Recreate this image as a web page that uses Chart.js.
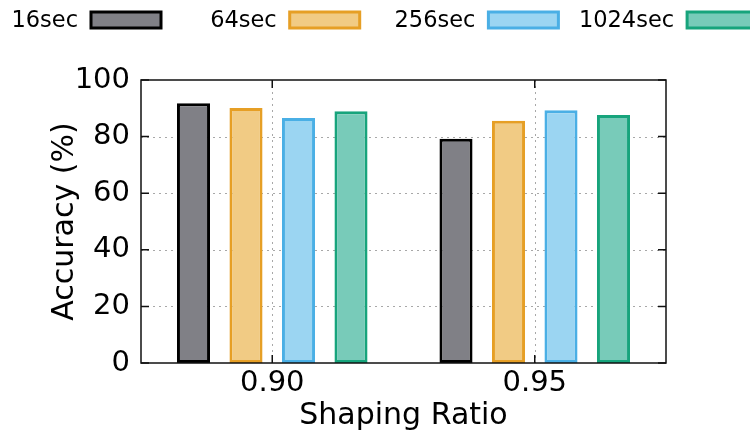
<!DOCTYPE html>
<html>
<head>
<meta charset="utf-8">
<script src="https://cdn.jsdelivr.net/npm/chart.js@4/dist/chart.umd.min.js"></script>
<style>
  html, body { margin: 0; padding: 0; background: #fff; }
  #wrap { width: 750px; height: 434px; position: relative; }
</style>
</head>
<body>
<div id="wrap"><canvas id="c" width="750" height="434"></canvas></div>
<script>
const categories = ['0.90', '0.95'];
const seriesNames = ['16sec', '64sec', '256sec', '1024sec'];
const acc16 = [91.8, 79.2];
const acc64 = [90.1, 85.6];
const acc256 = [86.6, 89.3];
const acc1024 = [89.0, 87.6];
const yTicks = [0, 20, 40, 60, 80, 100];

const fills = ['#808086', '#f1cb84', '#9bd5f2', '#78cbb9'];
const borders = ['#000000', '#e69f25', '#4aafe5', '#17a47c'];
const FONT = "'DejaVu Sans', sans-serif";

const seriesValues = [acc16, acc64, acc256, acc1024];

const framePlugin = {
  id: 'frame',
  beforeDatasetsDraw(chart) {
    const { ctx, chartArea: a, scales: { x, y } } = chart;
    ctx.save();
    ctx.strokeStyle = '#a8a8a8';
    ctx.lineWidth = 1;
    ctx.setLineDash([2, 4]);
    yTicks.forEach(v => {
      if (v === 0 || v === 100) return;
      const py = Math.round(y.getPixelForValue(v)) + 0.5;
      ctx.beginPath(); ctx.moveTo(a.left, py); ctx.lineTo(a.right, py); ctx.stroke();
    });
    categories.forEach((c, i) => {
      const px = Math.round(x.getPixelForValue(i)) + 0.5;
      ctx.beginPath(); ctx.moveTo(px, a.top); ctx.lineTo(px, a.bottom); ctx.stroke();
    });
    ctx.restore();
  },
  afterDatasetsDraw(chart) {
    const { ctx, chartArea: a, scales: { x, y } } = chart;
    ctx.save();
    ctx.strokeStyle = '#111';
    ctx.lineWidth = 1.5;
    ctx.setLineDash([]);
    ctx.strokeRect(a.left, a.top, a.right - a.left, a.bottom - a.top);
    const L = 8;
    ctx.beginPath();
    yTicks.forEach(v => {
      const py = y.getPixelForValue(v);
      ctx.moveTo(a.left, py); ctx.lineTo(a.left + L, py);
      ctx.moveTo(a.right, py); ctx.lineTo(a.right - L, py);
    });
    categories.forEach((c, i) => {
      const px = x.getPixelForValue(i);
      ctx.moveTo(px, a.bottom); ctx.lineTo(px, a.bottom - L);
      ctx.moveTo(px, a.top); ctx.lineTo(px, a.top + L);
    });
    ctx.stroke();
    ctx.restore();
  },
  afterDraw(chart) {
    const { ctx } = chart;
    ctx.save();
    ctx.font = '22.5px ' + FONT;
    ctx.textAlign = 'right';
    ctx.textBaseline = 'middle';
    ctx.fillStyle = '#000';
    seriesNames.forEach((n, i) => {
      const bx = 91 + i * 198.7;
      ctx.fillText(n, bx - 13, 21);
      ctx.fillStyle = fills[i];
      ctx.fillRect(bx, 12, 70, 16);
      ctx.strokeStyle = borders[i];
      ctx.lineWidth = 3;
      ctx.strokeRect(bx, 12, 70, 16);
      ctx.fillStyle = '#000';
    });
    ctx.restore();
  }
};

new Chart(document.getElementById('c'), {
  type: 'bar',
  data: {
    labels: categories,
    datasets: seriesNames.map((n, i) => ({
      label: n,
      data: seriesValues[i],
      backgroundColor: fills[i],
      borderColor: borders[i],
      borderWidth: 3,
      borderSkipped: false,
      categoryPercentage: 0.8,
      barPercentage: 0.63
    }))
  },
  options: {
    responsive: false,
    animation: false,
    devicePixelRatio: 1,
    layout: { padding: { top: 80, right: 84, left: 0, bottom: 0 } },
    plugins: { legend: { display: false }, tooltip: { enabled: false } },
    scales: {
      x: {
        grid: { display: false, drawTicks: false },
        border: { display: false },
        ticks: { color: '#000', font: { family: FONT, size: 29 }, padding: 3 },
        title: { display: true, text: 'Shaping Ratio', color: '#000', font: { family: FONT, size: 30 }, padding: { top: 0, bottom: 0 } },
        afterFit(s) { s.height = 71; }
      },
      y: {
        min: 0, max: 100,
        afterBuildTicks(s) { s.ticks = yTicks.map(v => ({ value: v })); },
        grid: { display: false, drawTicks: false },
        border: { display: false },
        ticks: { color: '#000', font: { family: FONT, size: 29 }, padding: 11 },
        title: { display: true, text: 'Accuracy (%)', color: '#000', font: { family: FONT, size: 30 }, padding: { top: 47, bottom: 0 } },
        afterFit(s) { s.width = 141; }
      }
    }
  },
  plugins: [framePlugin]
});
</script>
</body>
</html>
